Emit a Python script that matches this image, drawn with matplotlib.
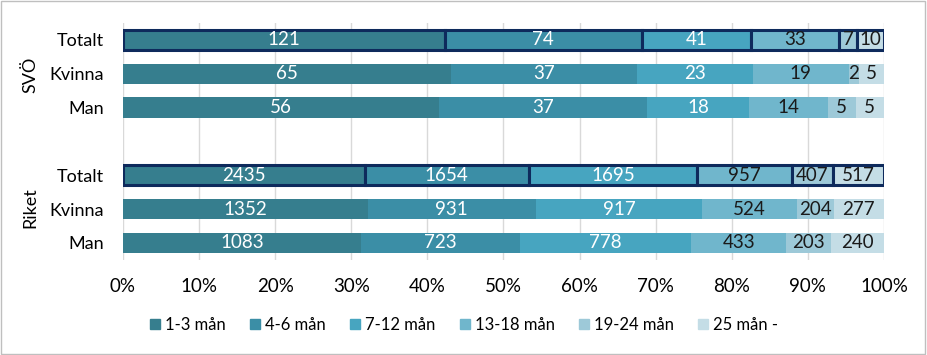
import matplotlib
matplotlib.use("Agg")
import matplotlib.pyplot as plt
import numpy as np

plt.rcParams["font.family"] = ["Lato", "DejaVu Sans"]

categories = ["1-3 mån", "4-6 mån", "7-12 mån", "13-18 mån", "19-24 mån", "25 mån -"]
row_labels = ["Totalt", "Kvinna", "Man", "", "Totalt", "Kvinna", "Man"]
groups = ["SVÖ", "Riket"]

# counts per row (top to bottom), per category
svo_totalt = [121, 74, 41, 33, 7, 10]
svo_kvinna = [65, 37, 23, 19, 2, 5]
svo_man = [56, 37, 18, 14, 5, 5]
riket_totalt = [2435, 1654, 1695, 957, 407, 517]
riket_kvinna = [1352, 931, 917, 524, 204, 277]
riket_man = [1083, 723, 778, 433, 203, 240]

colors = ["#367E8E", "#3B8EA6", "#47A5C0", "#70B6CC", "#9DC9D8", "#C4DDE6"]
text_colors = ["white", "white", "white", "#1a1a1a", "#1a1a1a", "#1a1a1a"]

rows = [svo_totalt, svo_kvinna, svo_man, None, riket_totalt, riket_kvinna, riket_man]
is_total = [True, False, False, False, True, False, False]

fig = plt.figure(figsize=(9.28, 3.55), dpi=100)
ax = fig.add_axes([0.1325, 0.268, 0.82, 0.667])

for i, vals in enumerate(rows):
    if vals is None:
        continue
    vals = np.array(vals, dtype=float)
    shares = vals / vals.sum()
    left = 0.0
    for j, (v, s) in enumerate(zip(vals, shares)):
        if is_total[i]:
            ax.barh(i, s, left=left, height=0.6, color=colors[j],
                    edgecolor="#0E2A5C", linewidth=2.2, zorder=3)
        else:
            ax.barh(i, s, left=left, height=0.6, color=colors[j],
                    linewidth=0, zorder=3)
        ax.text(left + s / 2, i, f"{int(v)}", ha="center", va="center",
                color=text_colors[j], fontsize=13.5, zorder=4)
        left += s

ax.set_xlim(0, 1)
ax.set_ylim(6.5, -0.5)
ticks = np.arange(0, 1.01, 0.1)
ax.set_xticks(ticks)
ax.set_xticklabels([f"{int(round(t * 100))}%" for t in ticks], fontsize=13.5)
ax.set_yticks(range(len(row_labels)))
ax.set_yticklabels(row_labels, fontsize=13)
ax.tick_params(length=0)
ax.tick_params(axis="y", pad=14)
ax.tick_params(axis="x", pad=13)
ax.grid(axis="x", color="#D9D9D9", linewidth=1, zorder=0)
for s in ax.spines.values():
    s.set_visible(False)

fig.text(0.033, 1 - 75 / 355, groups[0], rotation=90, ha="center", va="center", fontsize=13)
fig.text(0.033, 1 - 208 / 355, groups[1], rotation=90, ha="center", va="center", fontsize=13)

handles = [plt.Rectangle((0, 0), 1, 1, color=c) for c in colors]
fig.legend(handles, categories, loc="center", bbox_to_anchor=(0.5, 1 - 325 / 355),
           ncol=6, frameon=False, fontsize=12, handlelength=0.6, handleheight=0.6,
           columnspacing=1.45, handletextpad=0.3)

border = plt.Rectangle((0.001, 0.003), 0.996, 0.994, transform=fig.transFigure,
                       fill=False, edgecolor="#BFBFBF", linewidth=1)
fig.patches.append(border)

fig.savefig("out.png", dpi=100)
